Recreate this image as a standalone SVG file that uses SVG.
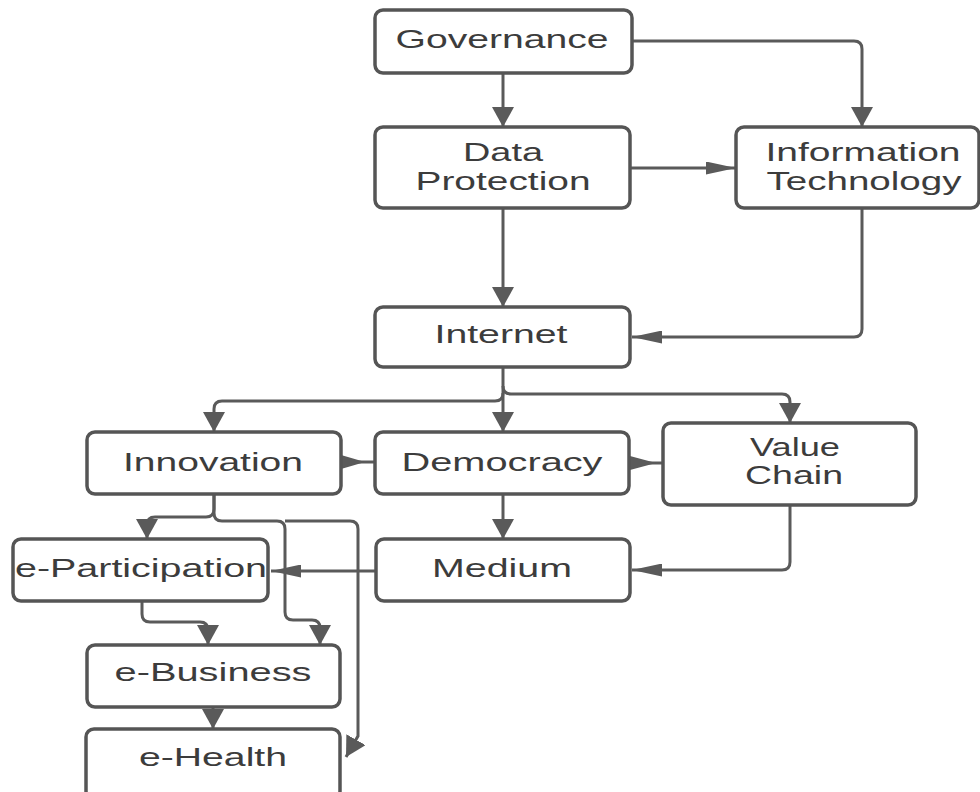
<svg xmlns="http://www.w3.org/2000/svg" width="980" height="792" viewBox="0 0 980 792">
<style>
.box{fill:#fff;stroke:#555;stroke-width:3.5}
.t{font-family:"Liberation Sans",Arial,sans-serif;font-size:25px;fill:#3c3c3c;text-anchor:middle}
.c{fill:none;stroke:#5a5a5a;stroke-width:3}
.v{marker-end:url(#av)}
.h{marker-end:url(#ah)}
.tri{fill:#5a5a5a}
</style>
<defs>
<marker id="av" markerUnits="userSpaceOnUse" viewBox="0 0 20 22" markerWidth="20" markerHeight="22" refX="20" refY="11" orient="auto"><path d="M0,0 L20,11 L0,22 z" fill="#5a5a5a"/></marker>
<marker id="ah" markerUnits="userSpaceOnUse" viewBox="0 0 30 13" markerWidth="30" markerHeight="13" refX="30" refY="6.5" orient="auto"><path d="M0,0 L30,6.5 L0,13 z" fill="#5a5a5a"/></marker>
</defs>
<rect width="980" height="792" fill="#fff"/>
<g id="connectors">
<path class="c v" d="M503,73 V127"/>
<path class="c v" d="M632,41 H854 Q862,41 862,49 V127"/>
<path class="c h" d="M630,168 H736"/>
<path class="c v" d="M503,208 V307"/>
<path class="c h" d="M862,208 V329 Q862,337 854,337 H632"/>
<path class="c v" d="M503,367 V432"/>
<path class="c v" d="M503,393 Q503,401 495,401 H222 Q214,401 214,409 V432"/>
<path class="c v" d="M503,386 Q503,394 511,394 H782 Q790,394 790,402 V423"/>
<path class="c" d="M341,462 H375"/>
<polygon class="tri" points="341,455 341,469 365,462"/>
<path class="c" d="M630,463 H663"/>
<polygon class="tri" points="630,456 630,470 656,463"/>
<path class="c v" d="M503,494 V539"/>
<path class="c h" d="M790,505 V562 Q790,570 782,570 H632"/>
<path class="c h" d="M376,571 H271"/>
<path class="c v" d="M214,494 V509 Q214,517 206,517 H155 Q147,517 147,525 V539"/>
<path class="c v" d="M214,494 V513 Q214,521 222,521 H277 Q285,521 285,529 V612 Q285,620 293,620 H312 Q320,620 320,628 V645"/>
<path class="c v" d="M285,521 H350 Q358,521 358,529 V736 L346,757"/>
<path class="c v" d="M142,601 V614 Q142,622 150,622 H200 Q208,622 208,630 V645"/>
<path class="c v" d="M213,707 V729"/>
</g>
<g id="governance"><rect class="box" x="375" y="10" width="257" height="63" rx="8"/><text class="t" x="502" y="48" textLength="213" lengthAdjust="spacingAndGlyphs">Governance</text></g>
<g id="data-protection"><rect class="box" x="375" y="127" width="255" height="81" rx="8"/><text class="t" x="503" y="161" textLength="80" lengthAdjust="spacingAndGlyphs">Data</text><text class="t" x="503" y="190" textLength="175" lengthAdjust="spacingAndGlyphs">Protection</text></g>
<g id="information-technology"><rect class="box" x="736" y="127" width="243" height="81" rx="8"/><text class="t" x="863" y="161" textLength="195" lengthAdjust="spacingAndGlyphs">Information</text><text class="t" x="864" y="190" textLength="195" lengthAdjust="spacingAndGlyphs">Technology</text></g>
<g id="internet"><rect class="box" x="375" y="307" width="255" height="60" rx="8"/><text class="t" x="501" y="343" textLength="133" lengthAdjust="spacingAndGlyphs">Internet</text></g>
<g id="innovation"><rect class="box" x="87" y="432" width="254" height="62" rx="8"/><text class="t" x="213" y="471" textLength="180" lengthAdjust="spacingAndGlyphs">Innovation</text></g>
<g id="democracy"><rect class="box" x="375" y="432" width="254" height="62" rx="8"/><text class="t" x="502" y="471" textLength="201" lengthAdjust="spacingAndGlyphs">Democracy</text></g>
<g id="value-chain"><rect class="box" x="663" y="423" width="253" height="82" rx="8"/><text class="t" x="795" y="456" textLength="90" lengthAdjust="spacingAndGlyphs">Value</text><text class="t" x="794" y="484" textLength="98" lengthAdjust="spacingAndGlyphs">Chain</text></g>
<g id="medium"><rect class="box" x="376" y="539" width="254" height="62" rx="8"/><text class="t" x="502" y="577" textLength="140" lengthAdjust="spacingAndGlyphs">Medium</text></g>
<g id="e-participation"><rect class="box" x="13" y="539" width="255" height="62" rx="8"/><text class="t" x="141" y="577" textLength="252" lengthAdjust="spacingAndGlyphs">e-Participation</text></g>
<g id="e-business"><rect class="box" x="87" y="645" width="253" height="62" rx="8"/><text class="t" x="213" y="681" textLength="197" lengthAdjust="spacingAndGlyphs">e-Business</text></g>
<g id="e-health"><rect class="box" x="86" y="729" width="254" height="70" rx="8"/><text class="t" x="213" y="766" textLength="148" lengthAdjust="spacingAndGlyphs">e-Health</text></g>
</svg>
